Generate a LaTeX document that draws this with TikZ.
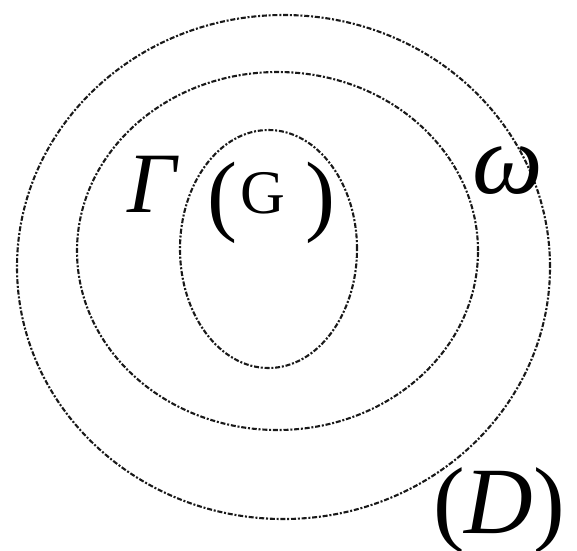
\documentclass[tikz,border=0pt]{standalone}
\usepackage{fontspec}
\setmainfont{Liberation Serif}
\begin{document}
\begin{tikzpicture}[x=1pt,y=-1pt,
  curve/.style={draw=black!90, line width=2.1pt,
    dash pattern=on 5pt off 1.8pt on 2pt off 1.8pt},
  lbl/.style={inner sep=0pt, outer sep=0pt, anchor=base west}]
\useasboundingbox (0,0) rectangle (577,550);
% curves
\draw[curve] (283.5,267) ellipse [x radius=266.5pt, y radius=252pt];
\draw[curve] (277.5,251) ellipse [x radius=200.5pt, y radius=179pt];
\draw[curve] (268.5,249) ellipse [x radius=88.5pt, y radius=119pt];
% labels
\node[lbl] (gamma) at (127,212) {\fontsize{86}{86}\selectfont\itshape Γ};
\node[lbl] (G) at (207,224) {\fontsize{90}{90}\selectfont(\hspace{4pt}\raisebox{11pt}{\fontsize{62}{62}\selectfont G}\hspace{20pt})};
\node[lbl] (omega) at (472,193) {\fontsize{100}{100}\selectfont\itshape ω};
\node[lbl] (D) at (433,533) {\fontsize{95}{95}\selectfont(\textit{D})};
\end{tikzpicture}
\end{document}
